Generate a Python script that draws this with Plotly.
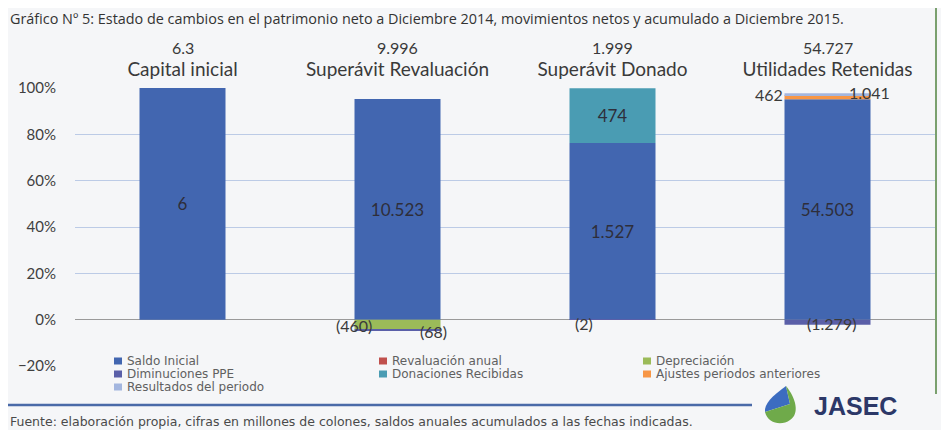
import plotly.graph_objects as go

# categorias y totales que se muestran encima de cada barra
categorias = ["Capital inicial", "Superávit Revaluación", "Superávit Donado", "Utilidades Retenidas"]
totales = ["6.3", "9.996", "1.999", "54.727"]

# movimientos en millones de colones (negativos = disminuciones)
saldo_inicial = [6, 10523, 1527, 54503]
revaluacion_anual = [0, 0, 0, 0]
depreciacion = [0, -460, 0, 0]
disminuciones_ppe = [0, -68, -2, -1279]
donaciones = [0, 0, 474, 0]
ajustes = [0, 0, 0, 1041]
resultados = [0, 0, 0, 462]

series = [
    ("Saldo Inicial", saldo_inicial, "#4266b0"),
    ("Revaluación anual", revaluacion_anual, "#c0504d"),
    ("Depreciación", depreciacion, "#9bbb59"),
    ("Diminuciones PPE", disminuciones_ppe, "#5a5fa8"),
    ("Donaciones Recibidas", donaciones, "#4a9cb3"),
    ("Ajustes periodos anteriores", ajustes, "#f79646"),
    ("Resultados del periodo", resultados, "#a3b6df"),
]

FONT = "Lato"
TXT = "DejaVu Sans"
OFF = 8  # margen del body de la pagina
W, H = 949 - OFF, 430 - OFF
L, R, T, B = 75, 935, 88, 366  # area del grafico en pixeles de la pagina


def px(x):
    return (x - L) / (R - L)


def py(y):
    return (B - y) / (B - T)


def fmt(v):
    s = f"{abs(v):,}".replace(",", ".")
    return f"({s})" if v < 0 else s


# 100% apilado como en Excel: cada valor sobre la suma de absolutos
abs_tot = [sum(abs(s[1][i]) for s in series) for i in range(len(categorias))]

fig = go.Figure()
for name, vals, color in series:
    pct = [v / abs_tot[i] for i, v in enumerate(vals)]
    txt = [fmt(v) if abs(p) > 0.1 else "" for v, p in zip(vals, pct)]
    fig.add_trace(go.Bar(
        x=categorias, y=pct, name=name, marker=dict(color=color, line=dict(width=0)),
        text=txt, textposition="inside", insidetextanchor="middle",
        textfont=dict(family=FONT, size=17, color="#2e2e3a"),
        hoverinfo="name+y", showlegend=False,
    ))

# totales encima de cada categoria
for c, t in zip(categorias, totales):
    fig.add_annotation(x=c, y=py(47), yref="paper", text=t, showarrow=False, yanchor="middle",
                       font=dict(family=FONT, size=16, color="#3a3a3a"))

# etiquetas de segmentos pequeños
lbl_font = dict(family=FONT, size=16, color="#3a3a3a")
pequenas = [
    (1, depreciacion, -44, 6),
    (1, disminuciones_ppe, 36, 12),
    (2, disminuciones_ppe, -29, 4),
    (3, disminuciones_ppe, 4, 4),
]
for i, vals, dx, dy in pequenas:
    fig.add_annotation(x=categorias[i], y=0, text=fmt(vals[i]), showarrow=False,
                       xshift=dx, yshift=-dy, yanchor="middle", font=lbl_font)
top_u = (saldo_inicial[3] + ajustes[3] + resultados[3]) / abs_tot[3]
fig.add_annotation(x=categorias[3], y=top_u, text=fmt(resultados[3]), showarrow=False,
                   xshift=-59, yshift=-1, yanchor="middle", font=lbl_font)
fig.add_annotation(x=categorias[3], y=top_u, text=fmt(ajustes[3]), showarrow=False,
                   xshift=42, yshift=1, yanchor="middle", font=lbl_font)

# leyenda manual en tres columnas
shapes = []
for k, (name, vals, color) in enumerate(series):
    cx = [118, 383, 647][k % 3]
    cy = 361 + 13 * (k // 3)
    shapes.append(dict(type="rect", xref="paper", yref="paper",
                       x0=px(cx - 4), x1=px(cx + 4), y0=py(cy + 3.5), y1=py(cy - 3.5),
                       fillcolor=color, line=dict(width=0)))
    fig.add_annotation(xref="paper", yref="paper", x=px(cx + 7), y=py(cy), xanchor="left",
                       yanchor="middle", text=name, showarrow=False,
                       font=dict(family=TXT, size=12, color="#606060"))

# titulo y fuente
fig.add_annotation(xref="paper", yref="paper", x=px(8), y=py(18), xanchor="left", yanchor="middle",
                   text="Gráfico Nº 5: Estado de cambios en el patrimonio neto a Diciembre 2014, movimientos netos y acumulado a Diciembre 2015.",
                   showarrow=False, font=dict(family="Open Sans", size=14.4, color="#333333"))
fig.add_annotation(xref="paper", yref="paper", x=px(8), y=py(421), xanchor="left", yanchor="middle",
                   text="Fuente: elaboración propia, cifras en millones de colones, saldos anuales acumulados a las fechas indicadas.",
                   showarrow=False, font=dict(family=TXT, size=12.5, color="#4a4a4a"))
fig.add_annotation(xref="paper", yref="paper", x=px(812), y=py(406), xanchor="left", yanchor="middle",
                   text="<b>JASEC</b>", showarrow=False,
                   font=dict(family="Liberation Sans", size=25, color="#2c3868"))

shapes += [
    dict(type="line", xref="paper", yref="paper", x0=px(0), x1=px(752), y0=py(405), y1=py(405),
         line=dict(color="#4a6aa8", width=2.5)),
    dict(type="line", xref="paper", yref="paper", x0=px(936), x1=px(936), y0=py(0), y1=py(394),
         line=dict(color="#7aa06e", width=2)),
    # gota del logo
    dict(type="path", xref="paper", yref="paper",
         path=f"M {px(786)},{py(386)} C {px(772)},{py(396)} {px(764)},{py(404)} {px(765)},{py(412)} "
              f"L {px(790)},{py(404)} Z",
         fillcolor="#3c6cc0", line=dict(width=0)),
    dict(type="path", xref="paper", yref="paper",
         path=f"M {px(765)},{py(412)} C {px(768)},{py(424)} {px(782)},{py(426)} {px(790)},{py(420)} "
              f"C {px(800)},{py(414)} {px(796)},{py(398)} {px(786)},{py(386)} L {px(790)},{py(404)} Z",
         fillcolor="#6faa4a", line=dict(width=0)),
]

fig.update_layout(
    width=W, height=H,
    barmode="relative", bargap=0.6,
    margin=dict(l=L - OFF, r=W - (R - OFF), t=T - OFF, b=H - (B - OFF)),
    paper_bgcolor="#f5f6f8", plot_bgcolor="#f5f6f8",
    font=dict(family=FONT, color="#404040"),
    xaxis=dict(side="top", type="category", showgrid=False, ticks="", showline=False,
               automargin=False, ticklabelstandoff=7,
               tickfont=dict(family=FONT, size=19, color="#3a3a3a")),
    yaxis=dict(range=[-0.2, 1.0], dtick=0.2, tickformat=".0%", gridcolor="#bccbe6", gridwidth=1,
               zeroline=True, zerolinecolor="#9a9a9a", zerolinewidth=1, ticks="",
               automargin=False, ticklabelstandoff=18,
               tickfont=dict(family=FONT, size=15, color="#404040")),
    shapes=shapes,
    showlegend=False,
)

fig.write_html("out.html")
